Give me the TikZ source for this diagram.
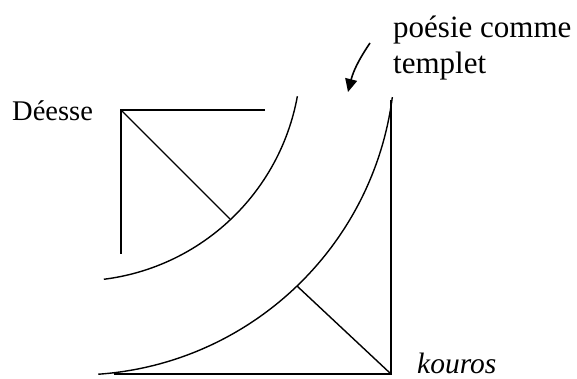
\documentclass[tikz,border=0pt]{standalone}
\usepackage{fontspec}
\setmainfont{Liberation Serif}
\usetikzlibrary{arrows.meta}
\begin{document}
\begin{tikzpicture}[x=1pt,y=-1pt,
  ln/.style={line width=1.4pt, line cap=butt},
  lbl/.style={inner sep=0pt, anchor=base west},
  ]
\useasboundingbox (0,0) rectangle (577,378);
% centre of the two concentric arcs
\coordinate (c) at (76,56);
% texts
\node[lbl, font=\fontsize{28.5}{34}\selectfont] (deesse) at (12,120) {Déesse};
\node[lbl, font=\fontsize{31}{36}\selectfont] (poesie) at (393,37) {poésie comme};
\node[lbl, font=\fontsize{31}{36}\selectfont] (templet) at (393,73) {templet};
\node[lbl, font=\fontsize{29.5}{34}\selectfont\itshape] (kouros) at (417,373) {kouros};
% upper-left corner figure
\coordinate (D) at (121,110);
\coordinate (Dh) at (265,110);
\coordinate (Dv) at (121,254);
\coordinate (Dd) at (230,219);
\draw[ln] (Dh) -- (D) -- (Dv);
\draw[ln] (D) -- (Dd);
% inner arc
\draw[ln] ([shift={(10.3:225)}]c) arc[start angle=10.3, end angle=82.9, radius=225];
% outer arc
\draw[ln] ([shift={(7.4:319)}]c) arc[start angle=7.4, end angle=86.0, radius=319];
% lower-right corner figure
\coordinate (K) at (391,374);
\coordinate (Kt) at (391,100);
\coordinate (Kl) at (114,374);
\coordinate (Kd) at (297,286);
\draw[ln] (Kt) -- (K) -- (Kl);
\draw[ln] (K) -- (Kd);
% arrow
\coordinate (a1) at (370,43);
\coordinate (a2) at (348,92);
\draw[line width=1.6pt, -{Triangle[length=13pt,width=12pt]}] (a1) to[bend right=10] (a2);
\end{tikzpicture}
\end{document}
